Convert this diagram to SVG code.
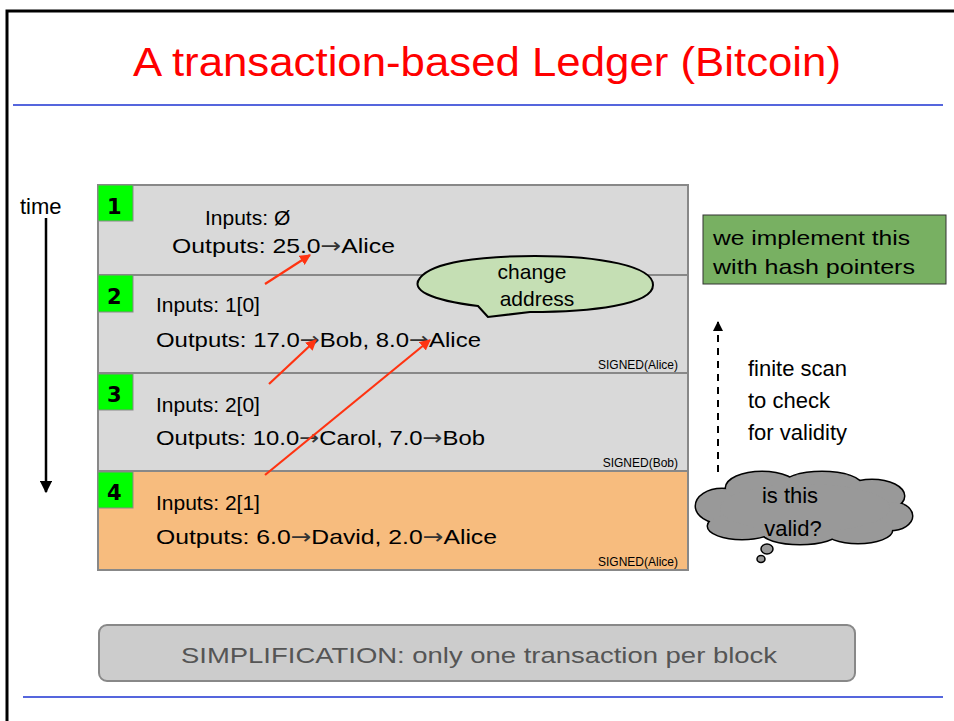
<svg xmlns="http://www.w3.org/2000/svg" width="954" height="721" viewBox="0 0 954 721">
<style>
.t{font-family:"Liberation Sans","DejaVu Sans",sans-serif;fill:#000}
.blk{stroke:#888;stroke-width:2}
.num{fill:#00FF00;stroke:#888;stroke-width:1}
.nt{font-family:"DejaVu Sans",sans-serif;font-weight:bold;font-size:21px;fill:#000}
.tx{font-size:21px}
.sg{font-size:12px}
.ar{font-family:"DejaVu Sans",sans-serif;fill:#333}
.red{stroke:#FF3311;stroke-width:2.2;fill:none}
</style>
<defs>
<marker id="ra" viewBox="0 0 10 10" refX="9" refY="5" markerWidth="5" markerHeight="5" orient="auto" markerUnits="strokeWidth"><path d="M0,0 L10,5 L0,10 z" fill="#FF3311"/></marker>
<marker id="ba" viewBox="0 0 10 10" refX="9" refY="5" markerWidth="5" markerHeight="5" orient="auto" markerUnits="strokeWidth"><path d="M0,0 L10,5 L0,10 z" fill="#000"/></marker>
</defs>
<rect width="954" height="721" fill="#fff"/>
<path d="M7,721 V11 H954" fill="none" stroke="#000" stroke-width="3"/>
<line x1="13" y1="105" x2="943" y2="105" stroke="#5566DD" stroke-width="2"/>
<line x1="23" y1="697" x2="943" y2="697" stroke="#5566DD" stroke-width="2"/>
<text class="t" x="487" y="76" text-anchor="middle" font-size="40" style="fill:#FF0000" textLength="708" lengthAdjust="spacingAndGlyphs">A transaction-based Ledger (Bitcoin)</text>

<g id="time">
<text class="t" x="20" y="214" font-size="22">time</text>
<line x1="46" y1="218" x2="46" y2="492" stroke="#000" stroke-width="2.5" marker-end="url(#ba)"/>
</g>

<g id="block1">
<rect class="blk" x="98" y="185" width="590" height="90" fill="#D9D9D9"/>
<rect class="num" x="98" y="185" width="35" height="36"/>
<text class="nt" x="107" y="214">1</text>
<text class="t tx" x="205" y="225">Inputs: Ø</text>
<text class="t tx" x="172" y="253" textLength="223" lengthAdjust="spacingAndGlyphs">Outputs: 25.0<tspan class="ar">→</tspan>Alice</text>
</g>
<g id="block2">
<rect class="blk" x="98" y="275" width="590" height="98" fill="#D9D9D9"/>
<rect class="num" x="98" y="275" width="35" height="37"/>
<text class="nt" x="107" y="304">2</text>
<text class="t tx" x="156" y="312">Inputs: 1[0]</text>
<text class="t tx" x="156" y="347" textLength="325" lengthAdjust="spacingAndGlyphs">Outputs: 17.0<tspan class="ar">→</tspan>Bob, 8.0<tspan class="ar">→</tspan>Alice</text>
<text class="t sg" x="678" y="369" text-anchor="end">SIGNED(Alice)</text>
</g>
<g id="block3">
<rect class="blk" x="98" y="373" width="590" height="98" fill="#D9D9D9"/>
<rect class="num" x="98" y="374" width="35" height="36"/>
<text class="nt" x="107" y="402">3</text>
<text class="t tx" x="156" y="412">Inputs: 2[0]</text>
<text class="t tx" x="156" y="445" textLength="329" lengthAdjust="spacingAndGlyphs">Outputs: 10.0<tspan class="ar">→</tspan>Carol, 7.0<tspan class="ar">→</tspan>Bob</text>
<text class="t sg" x="678" y="467" text-anchor="end">SIGNED(Bob)</text>
</g>
<g id="block4">
<rect class="blk" x="98" y="471" width="590" height="99" fill="#F7BC7E"/>
<rect class="num" x="98" y="472" width="35" height="36"/>
<text class="nt" x="107" y="500">4</text>
<text class="t tx" x="156" y="510">Inputs: 2[1]</text>
<text class="t tx" x="156" y="544" textLength="341" lengthAdjust="spacingAndGlyphs">Outputs: 6.0<tspan class="ar">→</tspan>David, 2.0<tspan class="ar">→</tspan>Alice</text>
<text class="t sg" x="678" y="566" text-anchor="end">SIGNED(Alice)</text>
</g>

<g id="connectors">
<line class="red" x1="265" y1="284" x2="310" y2="255" marker-end="url(#ra)"/>
<line class="red" x1="269" y1="384" x2="316" y2="340" marker-end="url(#ra)"/>
<line class="red" x1="265" y1="475" x2="430" y2="340" marker-end="url(#ra)"/>
<line x1="718" y1="472" x2="718" y2="322" stroke="#000" stroke-width="2" stroke-dasharray="7,6" marker-end="url(#ba)"/>
</g>

<g id="change-bubble">
<path d="M488,317 L478,306 C430,300 410,290 420,278 C432,262 480,256 535,256 C600,256 653,266 653,285 C653,305 590,312 530,312 Z" fill="#C5DFB4" stroke="#000" stroke-width="2"/>
<text class="t" x="532" y="279" font-size="21" text-anchor="middle">change</text>
<text class="t" x="537" y="306" font-size="21" text-anchor="middle">address</text>
</g>

<g id="hash-note">
<rect x="703" y="215" width="243" height="69" fill="#78B062" stroke="#333" stroke-width="1"/>
<text class="t" x="713" y="245" font-size="21" textLength="197" lengthAdjust="spacingAndGlyphs">we implement this</text>
<text class="t" x="713" y="274" font-size="21" textLength="202" lengthAdjust="spacingAndGlyphs">with hash pointers</text>
</g>

<g id="scan-label">
<text class="t" x="748" y="376" font-size="22">finite scan</text>
<text class="t" x="748" y="408" font-size="22">to check</text>
<text class="t" x="748" y="440" font-size="22">for validity</text>
</g>

<g id="valid-cloud">
<g stroke="#000" stroke-width="3" fill="#999">
<ellipse cx="722" cy="506" rx="26" ry="17"/>
<ellipse cx="762" cy="488" rx="36" ry="16"/>
<ellipse cx="822" cy="486" rx="40" ry="14"/>
<ellipse cx="872" cy="496" rx="32" ry="16"/>
<ellipse cx="890" cy="516" rx="22" ry="14"/>
<ellipse cx="858" cy="530" rx="34" ry="13"/>
<ellipse cx="800" cy="532" rx="38" ry="12"/>
<ellipse cx="742" cy="526" rx="34" ry="13"/>
</g>
<g fill="#999">
<ellipse cx="722" cy="506" rx="26" ry="17"/>
<ellipse cx="762" cy="488" rx="36" ry="16"/>
<ellipse cx="822" cy="486" rx="40" ry="14"/>
<ellipse cx="872" cy="496" rx="32" ry="16"/>
<ellipse cx="890" cy="516" rx="22" ry="14"/>
<ellipse cx="858" cy="530" rx="34" ry="13"/>
<ellipse cx="800" cy="532" rx="38" ry="12"/>
<ellipse cx="742" cy="526" rx="34" ry="13"/>
<ellipse cx="805" cy="508" rx="85" ry="24"/>
</g>
<ellipse cx="767" cy="549" rx="6" ry="5" fill="#999" stroke="#000" stroke-width="1.5"/>
<ellipse cx="761" cy="559" rx="4" ry="3.5" fill="#999" stroke="#000" stroke-width="1.5"/>
<text class="t" x="790" y="503" font-size="22" text-anchor="middle">is this</text>
<text class="t" x="793" y="536" font-size="22" text-anchor="middle">valid?</text>
</g>

<g id="simplification">
<rect x="99" y="625" width="756" height="56" rx="8" fill="#CCCCCC" stroke="#888" stroke-width="2"/>
<text class="t" x="479" y="663" font-size="22" text-anchor="middle" style="fill:#555" textLength="596" lengthAdjust="spacingAndGlyphs">SIMPLIFICATION: only one transaction per block</text>
</g>
</svg>
